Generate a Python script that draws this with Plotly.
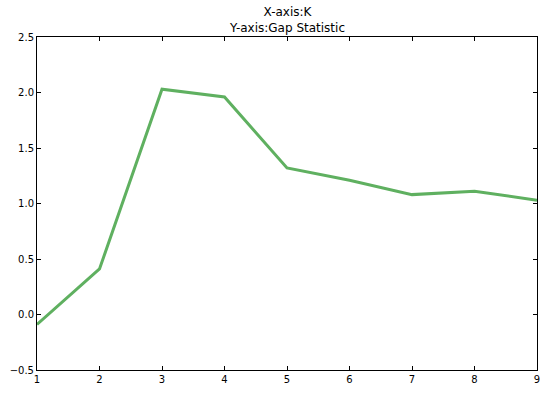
import plotly.graph_objects as go

k_values = [1, 2, 3, 4, 5, 6, 7, 8, 9]
gap_statistic = [-0.09, 0.41, 2.03, 1.96, 1.32, 1.21, 1.08, 1.11, 1.03]
y_ticks = [-0.5, 0.0, 0.5, 1.0, 1.5, 2.0, 2.5]
y_tick_labels = ["\u22120.5", "0.0", "0.5", "1.0", "1.5", "2.0", "2.5"]
x_ticks = [1, 2, 3, 4, 5, 6, 7, 8, 9]

fig = go.Figure()
fig.add_trace(go.Scatter(x=k_values, y=gap_statistic, mode="lines",
                         line=dict(color="#5fb060", width=3)))

axis_common = dict(showgrid=False, zeroline=False, showline=True, linecolor="black",
                   linewidth=1, mirror="allticks", ticks="inside", ticklen=4,
                   tickcolor="black", tickfont=dict(family="DejaVu Sans", size=10, color="black"))

fig.update_layout(
    width=548, height=393,
    margin=dict(l=37, r=8, t=37, b=16),
    plot_bgcolor="white", paper_bgcolor="white",
    showlegend=False,
    annotations=[dict(text="X-axis:K<br>Y-axis:Gap Statistic", x=0.5, xref="paper",
                      y=1, yref="paper", xanchor="center", yanchor="bottom", yshift=0,
                      showarrow=False,
                      font=dict(family="DejaVu Sans", size=12, color="black"))],
    xaxis=dict(range=[1, 9], tickvals=x_ticks, **axis_common),
    yaxis=dict(range=[-0.5, 2.5], tickvals=y_ticks, ticktext=y_tick_labels, **axis_common),
)

fig.write_html("out.html")
